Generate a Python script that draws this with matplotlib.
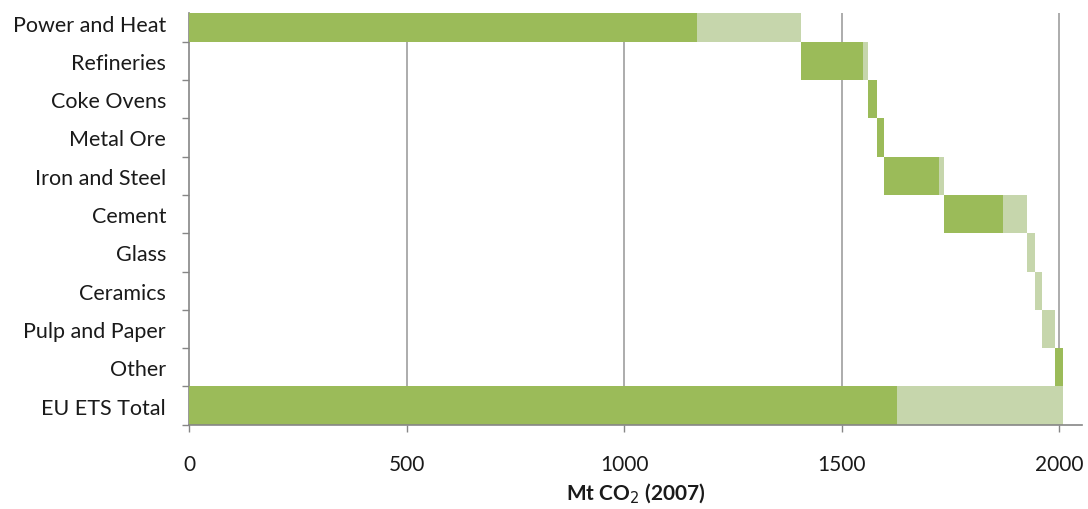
import matplotlib
matplotlib.use("Agg")
import matplotlib.pyplot as plt
import numpy as np

plt.rcParams['font.family'] = ['Lato', 'DejaVu Sans']

sectors = ["Power and Heat", "Refineries", "Coke Ovens", "Metal Ore",
           "Iron and Steel", "Cement", "Glass", "Ceramics",
           "Pulp and Paper", "Other"]
# two parts of each sector's emissions, Mt CO2
dark_part = [1168, 142, 20, 18, 125, 136, 0, 0, 0, 19]
light_part = [239, 11, 0, 0, 12, 55, 18, 16, 30, 0]
total_label = "EU ETS Total"
xticks = [0, 500, 1000, 1500, 2000]

DARK = "#9BBB59"
LIGHT = "#C6D6AC"
GRID = "#A6A6A6"
AXIS = "#868686"
TEXT = "#1a1a1a"

dark = np.array(dark_part, dtype=float)
light = np.array(light_part, dtype=float)
sector_total = dark + light
starts = np.concatenate([[0], np.cumsum(sector_total)[:-1]])

labels = sectors + [total_label]
dark_all = np.append(dark, dark.sum())
light_all = np.append(light, light.sum())
starts_all = np.append(starts, 0)
ypos = np.arange(len(labels))

fig = plt.figure(figsize=(10.88, 5.10), dpi=100)
ax = fig.add_axes([0.1737, 0.1653, 0.8208, 0.8072])

ax.barh(ypos, dark_all, left=starts_all, height=1.0, color=DARK,
        linewidth=0, zorder=2)
ax.barh(ypos, light_all, left=starts_all + dark_all, height=1.0,
        color=LIGHT, linewidth=0, zorder=2)

ax.set_xlim(0, 2052)
ax.set_ylim(10.5, -0.25)

ax.set_xticks(xticks)
ax.set_xticklabels([str(t) for t in xticks])
for t in xticks[1:]:
    ax.axvline(t, color=GRID, lw=1.3, zorder=1)

ax.set_yticks(ypos)
ax.set_yticklabels(labels)
ax.set_yticks(np.arange(0.5, len(labels), 1.0), minor=True)

ax.tick_params(axis="y", which="major", length=0, pad=16.5,
               labelsize=15.5, labelcolor=TEXT)
ax.tick_params(axis="y", which="minor", length=5, width=1, color=AXIS)
ax.tick_params(axis="x", which="major", length=5, width=1, color=AXIS,
               pad=16, labelsize=15, labelcolor=TEXT)

for side in ("top", "right"):
    ax.spines[side].set_visible(False)
for side in ("left", "bottom"):
    ax.spines[side].set_color(AXIS)
    ax.spines[side].set_linewidth(1.2)
ax.spines["left"].set_zorder(1)

ax.set_xlabel("Mt CO$_2$ (2007)", fontsize=15, fontweight="bold",
              labelpad=5, color=TEXT)

fig.savefig("out.png", dpi=100)
